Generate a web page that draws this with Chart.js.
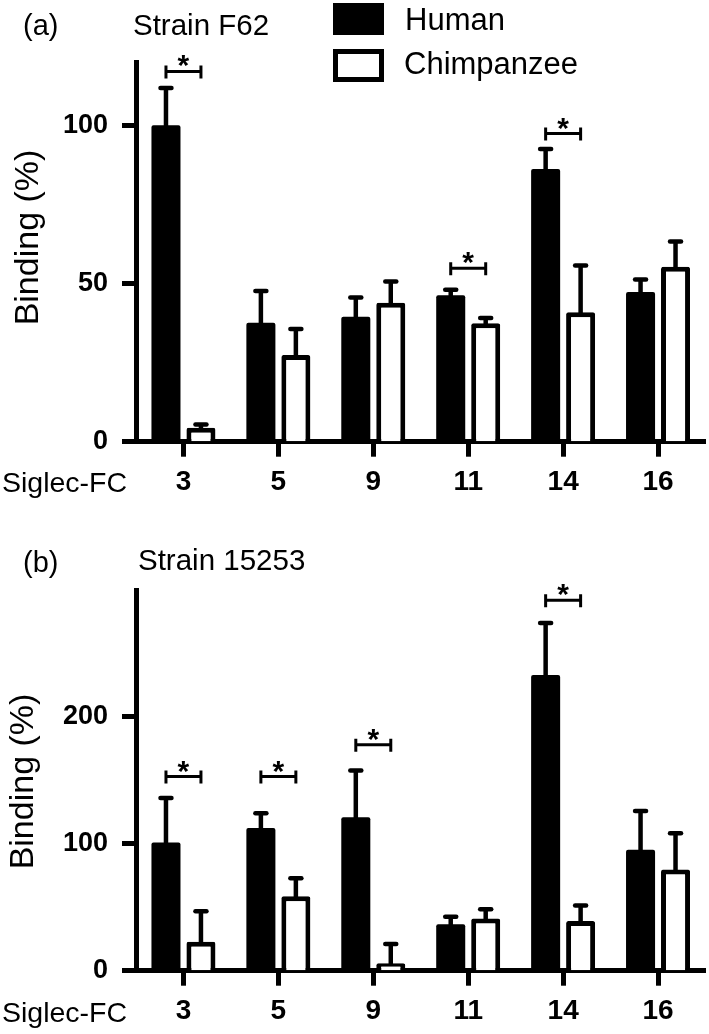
<!DOCTYPE html>
<html>
<head>
<meta charset="utf-8">
<script src="https://cdn.jsdelivr.net/npm/chart.js@4/dist/chart.umd.min.js"></script>
<style>
  html, body { margin: 0; padding: 0; background: #fff; }
  #wrap { position: relative; width: 709px; height: 1034px; }
  canvas { position: absolute; left: 0; }
  #chart-a { top: 0; }
  #chart-b { top: 517px; }
</style>
</head>
<body>
<div id="wrap">
  <canvas id="chart-a" width="709" height="517"></canvas>
  <canvas id="chart-b" width="709" height="517"></canvas>
</div>
<script>
(function() {
  'use strict';

  var categories = ['3', '5', '9', '11', '14', '16'];
  var seriesLabels = ['Human', 'Chimpanzee'];

  // (a) Strain F62
  var humanA = [100, 37.6, 39.5, 46.3, 86.2, 47.3];
  var humanErrA = [11.8, 10, 6.1, 1.7, 6.3, 4];
  var chimpA = [4.4, 27.4, 43.9, 37.4, 40.9, 55.3];
  var chimpErrA = [1, 8.2, 6.7, 1.7, 14.8, 8];
  var yTicksA = [0, 50, 100];
  var sigIndexA = [0, 3, 4];
  var sigLevelA = [117, 54.8, 97.4];

  // (b) Strain 15253
  var humanB = [101, 112.4, 121, 36.7, 233, 95.4];
  var humanErrB = [35, 11.7, 36.8, 5.8, 41, 30.4];
  var chimpB = [22.8, 58.7, 5.8, 41.2, 39.1, 79.7];
  var chimpErrB = [24, 14.2, 15.2, 7.3, 12.3, 28.7];
  var yTicksB = [0, 100, 200];
  var sigIndexB = [0, 1, 2, 4];
  var sigLevelB = [153, 153, 178, 292];

  var FONT = "'Liberation Sans', Arial, sans-serif";
  var CANVAS_H = 517;

  var decoPlugin = {
    id: 'deco',
    afterDatasetsDraw: function(chart, args, o) {
      var ctx = chart.ctx;
      var y = chart.scales.y;
      ctx.save();
      ctx.strokeStyle = '#000';
      chart.data.datasets.forEach(function(ds, i) {
        var meta = chart.getDatasetMeta(i);
        meta.data.forEach(function(bar, j) {
          var top = y.getPixelForValue(ds.data[j]);
          var end = y.getPixelForValue(ds.data[j] + o.errors[i][j]);
          ctx.lineWidth = 4.5;
          ctx.lineCap = 'butt';
          ctx.beginPath();
          ctx.moveTo(bar.x, top + 2);
          ctx.lineTo(bar.x, end);
          ctx.stroke();
          ctx.lineCap = 'round';
          ctx.beginPath();
          ctx.moveTo(bar.x - 5.5, end);
          ctx.lineTo(bar.x + 5.5, end);
          ctx.stroke();
        });
      });
      ctx.restore();
    },
    afterDraw: function(chart, args, o) {
      var ctx = chart.ctx;
      var y = chart.scales.y;
      var metaH = chart.getDatasetMeta(0);
      var metaC = chart.getDatasetMeta(1);
      ctx.save();
      ctx.strokeStyle = '#000';
      ctx.fillStyle = '#000';

      // significance brackets
      o.sigIndex.forEach(function(k, n) {
        var x1 = metaH.data[k].x;
        var x2 = metaC.data[k].x;
        var yy = y.getPixelForValue(o.sigLevel[n]);
        ctx.lineWidth = 3;
        ctx.lineCap = 'butt';
        ctx.beginPath();
        ctx.moveTo(x1, yy); ctx.lineTo(x2, yy);
        ctx.moveTo(x1, yy - 6); ctx.lineTo(x1, yy + 7);
        ctx.moveTo(x2, yy - 6); ctx.lineTo(x2, yy + 7);
        ctx.stroke();
        ctx.font = 'bold 30px ' + FONT;
        ctx.textAlign = 'center';
        ctx.textBaseline = 'alphabetic';
        ctx.fillText('*', (x1 + x2) / 2, yy + 4);
      });

      // panel label and title
      ctx.textAlign = 'left';
      ctx.textBaseline = 'alphabetic';
      ctx.font = '29px ' + FONT;
      ctx.fillText(o.panel, o.panelX, o.panelY);
      ctx.font = '29.5px ' + FONT;
      ctx.fillText(o.title, o.titleX, o.titleY);

      // x label
      ctx.font = '28.5px ' + FONT;
      ctx.fillText(o.xLabel, o.xLabelX, o.xLabelY);

      // y title
      ctx.save();
      ctx.translate(o.yTitleX, o.yTitleY);
      ctx.rotate(-Math.PI / 2);
      ctx.textAlign = 'center';
      ctx.font = '34px ' + FONT;
      ctx.fillText(o.yTitle, 0, 0);
      ctx.restore();

      // legend
      if (o.legend) {
        ctx.fillRect(333, 3, 51, 32);
        ctx.lineWidth = 5;
        ctx.fillStyle = '#fff';
        ctx.fillRect(335.5, 51.5, 46, 28);
        ctx.strokeRect(335.5, 51.5, 46, 28);
        ctx.fillStyle = '#000';
        ctx.font = '31px ' + FONT;
        ctx.textAlign = 'left';
        ctx.fillText(chart.data.datasets[0].label, 405, 30);
        ctx.fillText(chart.data.datasets[1].label, 404, 74);
      }
      ctx.restore();
    }
  };

  function makeChart(id, human, humanErr, chimp, chimpErr, yMax, yTicks, bottomPx, topPx, deco) {
    deco.errors = [humanErr, chimpErr];
    var ctx = document.getElementById(id).getContext('2d');
    return new Chart(ctx, {
      type: 'bar',
      data: {
        labels: categories,
        datasets: [{
          label: seriesLabels[0],
          data: human,
          backgroundColor: '#000',
          borderWidth: 0,
          borderRadius: 2,
          categoryPercentage: 0.737,
          barPercentage: 0.83
        }, {
          label: seriesLabels[1],
          data: chimp,
          backgroundColor: '#fff',
          borderColor: '#000',
          borderWidth: 5,
          borderRadius: 2,
          categoryPercentage: 0.737,
          barPercentage: 0.83
        }]
      },
      options: {
        responsive: false,
        animation: false,
        layout: { padding: { top: topPx, right: 3.5, left: 0, bottom: 0 } },
        plugins: {
          legend: { display: false },
          tooltip: { enabled: false },
          deco: deco
        },
        scales: {
          x: {
            z: 1,
            offset: true,
            grid: {
              display: true,
              drawOnChartArea: false,
              drawTicks: true,
              offset: false,
              tickLength: 15,
              tickWidth: 5,
              tickColor: '#000'
            },
            border: { display: true, width: 5, color: '#000' },
            ticks: {
              color: '#000',
              padding: 9,
              maxRotation: 0,
              font: { family: FONT, size: 28, weight: 'bold' }
            },
            afterFit: function(s) { s.height = CANVAS_H - bottomPx; }
          },
          y: {
            z: 1,
            min: 0,
            max: yMax,
            grid: {
              display: true,
              drawOnChartArea: false,
              drawTicks: true,
              tickLength: 14,
              tickWidth: 5,
              tickColor: '#000'
            },
            border: { display: true, width: 5, color: '#000' },
            ticks: {
              color: '#000',
              padding: 14,
              font: { family: FONT, size: 27, weight: 'bold' }
            },
            afterBuildTicks: function(s) {
              s.ticks = yTicks.map(function(v) { return { value: v }; });
            },
            afterFit: function(s) { s.width = 136; }
          }
        }
      },
      plugins: [decoPlugin]
    });
  }

  makeChart('chart-a', humanA, humanErrA, chimpA, chimpErrA, 120, yTicksA, 441.7, 62, {
    sigIndex: sigIndexA, sigLevel: sigLevelA,
    panel: '(a)', panelX: 23, panelY: 35,
    title: 'Strain F62', titleX: 133, titleY: 35,
    xLabel: 'Siglec-FC', xLabelX: 2, xLabelY: 492,
    yTitle: 'Binding (%)', yTitleX: 38, yTitleY: 237.5,
    legend: true
  });

  makeChart('chart-b', humanB, humanErrB, chimpB, chimpErrB, 300, yTicksB, 453.7, 73, {
    sigIndex: sigIndexB, sigLevel: sigLevelB,
    panel: '(b)', panelX: 23, panelY: 55,
    title: 'Strain 15253', titleX: 138, titleY: 53,
    xLabel: 'Siglec-FC', xLabelX: 2, xLabelY: 504.5,
    yTitle: 'Binding (%)', yTitleX: 33, yTitleY: 264.5,
    legend: false
  });
})();
</script>
</body>
</html>
